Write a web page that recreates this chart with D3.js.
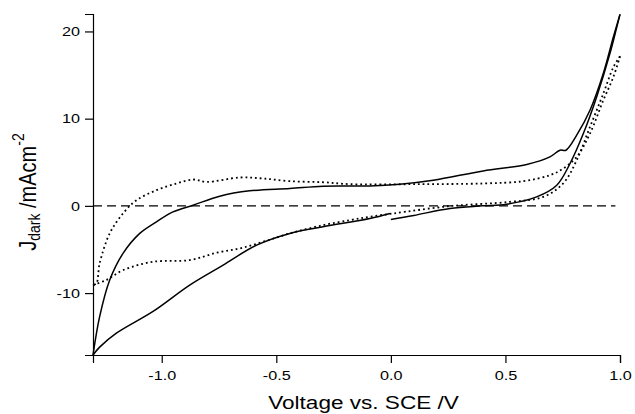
<!DOCTYPE html>
<html>
<head>
<meta charset="utf-8">
<script src="https://cdn.jsdelivr.net/npm/d3@7"></script>
<style>
  body { margin: 0; background: #fff; }
  svg { display: block; font-family: "Liberation Sans", Arial, sans-serif; }
</style>
</head>
<body>
<div class="chart"></div>
<script>
  const width = 635;
  const height = 414;
  const margin = { top: 14, right: 15, bottom: 59, left: 93 };

  // [voltage, current density]
  // solid trace: starts at 0 V, sweeps up to 1 V, back to -1.3 V, up to 0 V
  const solidUp = [[0.0,-1.56],[0.1,-1.1],[0.258,-0.3],[0.4,0.0],[0.505,0.19],[0.636,1.03],[0.724,2.37],
    [0.782,4.86],[0.84,8.29],[0.898,12.49],[0.956,17.46],[0.986,20.5],[1.0,21.96]]
  const solidBack = [[1.0,21.96],[0.971,19.36],[0.927,15.17],[0.869,10.96],[0.811,8.1],[0.764,6.38],[0.738,6.38],
    [0.694,5.61],[0.593,4.74],[0.403,4.01],[0.185,2.94],[0.039,2.49],[-0.092,2.29],[-0.296,2.26],[-0.441,1.99],
    [-0.616,1.72],[-0.747,1.11],[-0.863,0.08],[-0.951,-0.69],[-1.023,-1.83],[-1.096,-3.16],[-1.169,-5.45],
    [-1.227,-8.5],[-1.271,-12.7],[-1.3,-17.1]]
  const solidReturn = [[-1.3,-17.1],[-1.271,-16.2],[-1.198,-14.6],[-1.038,-12.1],[-0.878,-9.08],[-0.732,-6.79],
    [-0.586,-4.5],[-0.441,-3.16],[-0.296,-2.4],[-0.092,-1.45],[-0.004,-0.87]]

  // dotted trace
  const dotLower = [[-1.3,-9.08],[-1.242,-8.5],[-1.169,-7.37],[-1.038,-6.41],[-0.878,-6.22],[-0.761,-5.38],
    [-0.659,-4.88],[-0.558,-4.12],[-0.441,-3.16],[-0.296,-2.21],[-0.179,-1.64],[-0.092,-1.25],[0.01,-0.87],
    [0.258,-0.03],[0.52,0.46],[0.665,1.03],[0.752,2.57],[0.811,5.23],[0.869,9.05],[0.927,12.87],[0.971,15.9],[1.0,17.15]]
  const dotUpper = [[1.0,17.15],[0.971,14.78],[0.927,12.1],[0.869,8.29],[0.811,5.61],[0.752,4.28],[0.694,3.52],
    [0.578,2.83],[0.403,2.57],[0.112,2.49],[-0.179,2.49],[-0.296,2.71],[-0.441,2.83],[-0.558,3.14],[-0.659,3.25],
    [-0.805,2.75],[-0.863,3.02],[-0.936,2.56],[-1.023,1.8],[-1.11,0.65],[-1.169,-0.87],[-1.227,-3.16],
    [-1.271,-6.6],[-1.285,-8.9],[-1.3,-9.08]]

  const xTicks = [-1.0, -0.5, 0.0, 0.5, 1.0]
  const xTickLabels = ['-1.0', '-0.5', '0.0', '0.5', '1.0']
  const yTicks = [-10, 0, 10, 20]
  const yTickLabels = ['-10', '0', '10', '20']
  const xDomain = [-1.3, 1.0]
  const yDomain = [-17.1, 22]

  // the original figure is stretched sideways, text too
  const stretch = 1.2

  const xScale = d3.scaleLinear()
    .domain(xDomain)
    .range([margin.left, width - margin.right])

  const yScale = d3.scaleLinear()
    .domain(yDomain)
    .range([height - margin.bottom, margin.top])

  const svg = d3.select('.chart').append('svg')
    .attr('width', width)
    .attr('height', height)

  const line = d3.line()
    .x(d => xScale(d[0]))
    .y(d => yScale(d[1]))
    .curve(d3.curveCatmullRom.alpha(0.5))

  // zero line
  svg.append('line')
    .attr('x1', xScale(-1.3))
    .attr('x2', xScale(0.98))
    .attr('y1', yScale(0))
    .attr('y2', yScale(0))
    .attr('stroke', '#000')
    .attr('stroke-width', 1.1)
    .attr('stroke-dasharray', '9,5')

  const curves = svg.append('g').attr('class', 'curves')

  ;[dotLower, dotUpper].forEach(seg => {
    curves.append('path')
      .attr('d', line(seg))
      .attr('fill', 'none')
      .attr('stroke', '#000')
      .attr('stroke-width', 1.8)
      .attr('stroke-dasharray', '1.8,3')
  })

  ;[solidUp, solidBack, solidReturn].forEach(seg => {
    curves.append('path')
      .attr('d', line(seg))
      .attr('fill', 'none')
      .attr('stroke', '#000')
      .attr('stroke-width', 1.5)
  })

  const xAxis = d3.axisBottom(xScale)
    .tickValues(xTicks)
    .tickFormat((d, i) => xTickLabels[i])
    .tickSizeOuter(0)
    .tickSize(8)
    .tickPadding(7)

  const yAxis = d3.axisLeft(yScale)
    .tickValues(yTicks)
    .tickFormat((d, i) => yTickLabels[i])
    .tickSizeOuter(0)
    .tickSize(8)
    .tickPadding(5)

  const gx = svg.append('g')
    .attr('transform', `translate(0, ${height - margin.bottom})`)
    .call(xAxis)

  const gy = svg.append('g')
    .attr('transform', `translate(${margin.left}, 0)`)
    .call(yAxis)

  ;[gx, gy].forEach(g => {
    g.select('.domain').attr('stroke', '#000').attr('stroke-width', 1.2)
    g.selectAll('.tick line').attr('stroke', '#000').attr('stroke-width', 1.2)
    g.selectAll('.tick text')
      .attr('fill', '#000')
      .style('font-size', '13.5px')
      .style('font-family', '"Liberation Sans", Arial, sans-serif')
  })
  gx.selectAll('.tick text').attr('transform', `scale(${stretch},1)`)
  gy.selectAll('.tick text')
    .attr('x', -13 / stretch)
    .attr('transform', `scale(${stretch},1)`)

  // axis titles
  svg.append('text')
    .attr('transform', `translate(${(xScale(-1.3) + xScale(1.0)) / 2 + 7}, 409) scale(1.22,1)`)
    .attr('text-anchor', 'middle')
    .style('font-size', '18.5px')
    .text('Voltage vs. SCE /V')

  const yTitle = svg.append('text')
    .attr('transform', `translate(36, 192) rotate(-90) scale(1,${stretch})`)
    .attr('text-anchor', 'middle')
    .style('font-size', '20px')
  yTitle.append('tspan').text('J')
  yTitle.append('tspan').attr('baseline-shift', '-25%').style('font-size', '14px').text('dark')
  yTitle.append('tspan').attr('baseline-shift', '0%').text('\u00a0/mAcm')
  yTitle.append('tspan').attr('dy', -10).style('font-size', '14px').text('-2')
</script>
</body>
</html>
